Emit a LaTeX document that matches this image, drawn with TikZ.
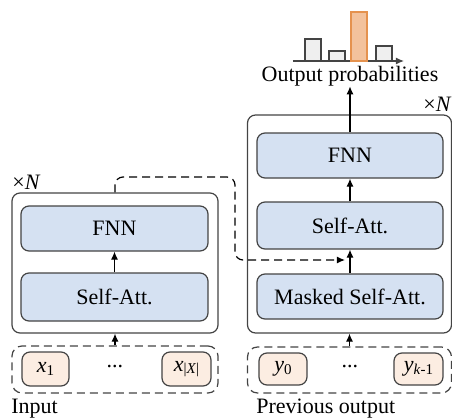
\documentclass[tikz,border=0pt]{standalone}
\usepackage{fontspec}
\setmainfont{Liberation Serif}
\usetikzlibrary{arrows.meta}
\definecolor{layerblue}{HTML}{D5E1F2}
\definecolor{tokfill}{HTML}{FCEDE2}
\definecolor{edgegray}{HTML}{444444}
\definecolor{barorange}{HTML}{F3C29C}
\definecolor{barorangeedge}{HTML}{E5924E}
\definecolor{bargray}{HTML}{EFEFEF}
\newcommand{\subtxt}[1]{\raisebox{-0.25ex}{\fontsize{7.5}{8}\selectfont #1}}
\tikzset{
  x=0.5pt, y=-0.5pt,
  every node/.style={font=\rmfamily\fontsize{11}{13}\selectfont, inner sep=0pt},
  stack/.style={draw=edgegray, line width=0.6pt, rounded corners=4pt},
  layer/.style={draw=edgegray, line width=0.6pt, fill=layerblue, rounded corners=4pt},
  inbox/.style={draw=edgegray, line width=0.6pt, dashed, dash pattern=on 4pt off 2.5pt, rounded corners=5pt},
  tok/.style={draw=edgegray, line width=0.6pt, fill=tokfill, rounded corners=4pt},
  flow/.style={draw=black, line width=0.6pt, -{Latex[length=4pt,width=3.5pt]}},
  skip/.style={draw=black, line width=0.6pt, dashed, dash pattern=on 4pt off 2.5pt, rounded corners=4pt, -{Latex[length=4pt,width=3.5pt]}},
  bar/.style={draw=edgegray, line width=0.6pt, fill=bargray},
}
\begin{document}
\begin{tikzpicture}
\useasboundingbox (0,0) rectangle (452,419);

% ---------- encoder ----------
\node[stack, minimum width=103pt, minimum height=70pt] (enc) at (115,263) {};
\node[anchor=south west] (encN) at (12,190) {×\textit{N}};
\node[layer, minimum width=93.5pt, minimum height=22.5pt] (encffn) at (114.5,228.5) {FNN};
\node[layer, minimum width=93.5pt, minimum height=24pt] (encatt) at (114.5,297) {Self-Att.};
\node[inbox, minimum width=103pt, minimum height=23.5pt] (inp) at (115,369.5) {};
\node[tok, minimum width=23.5pt, minimum height=17pt] (x1) at (45.5,369) {\textit{x}\subtxt{1}};
\node[tok, minimum width=24.5pt, minimum height=17pt] (xn) at (186.5,369) {\textit{x}\subtxt{|\textit{X}|}};
\node (xdots) at (115,367) {...};
\node[anchor=west] (inlabel) at (11,409) {Input};

\draw[flow] (inp.north) -- (enc.south);
\draw[flow] (encatt.north) -- (encffn.south);

% ---------- decoder ----------
\node[stack, minimum width=102pt, minimum height=109pt] (dec) at (349.5,224) {};
\node[anchor=south east] (decN) at (452,112) {×\textit{N}};
\node[layer, minimum width=93pt, minimum height=22.5pt] (decffn) at (350,155.5) {FNN};
\node[layer, minimum width=93pt, minimum height=23.5pt] (decatt) at (350,225.5) {Self-Att.};
\node[layer, minimum width=93pt, minimum height=22.5pt] (decmask) at (350,296.5) {Masked Self-Att.};
\node[inbox, minimum width=102pt, minimum height=23pt] (prev) at (349.5,370) {};
\node[tok, minimum width=24pt, minimum height=16pt] (y0) at (283,369) {\textit{y}\subtxt{0}};
\node[tok, minimum width=24.5pt, minimum height=16pt] (yk) at (418.5,369) {\textit{y}\subtxt{\textit{k}-1}};
\node (ydots) at (350,367) {...};
\node[anchor=west] (prevlabel) at (256,409) {Previous output};

\draw[flow] (prev.north) -- (dec.south);
\draw[flow] (decmask.north) -- (decatt.south);
\draw[flow] (decatt.north) -- (decffn.south);

% ---------- output distribution ----------
\node (outlabel) at (350,76) {Output probabilities};
\draw[flow] (decffn.north) -- (outlabel.south);
\coordinate (axL) at (293,61);
\coordinate (axR) at (404,61);
\draw[draw=edgegray, line width=0.6pt, -{Latex[length=4pt,width=3.5pt]}] (axL) -- (axR);
\draw[bar] (305,61) rectangle (321,39);
\draw[bar] (329,61) rectangle (345,51);
\draw[draw=barorangeedge, line width=0.6pt, fill=barorange] (351,61) rectangle (367,12);
\draw[bar] (376,61) rectangle (392,46);

% ---------- encoder output into decoder ----------
\coordinate (skipin) at (345,260);
\draw[skip] (enc.north) -- (115,177) -- (235,177) -- (235,260) -- (skipin);
\end{tikzpicture}
\end{document}
